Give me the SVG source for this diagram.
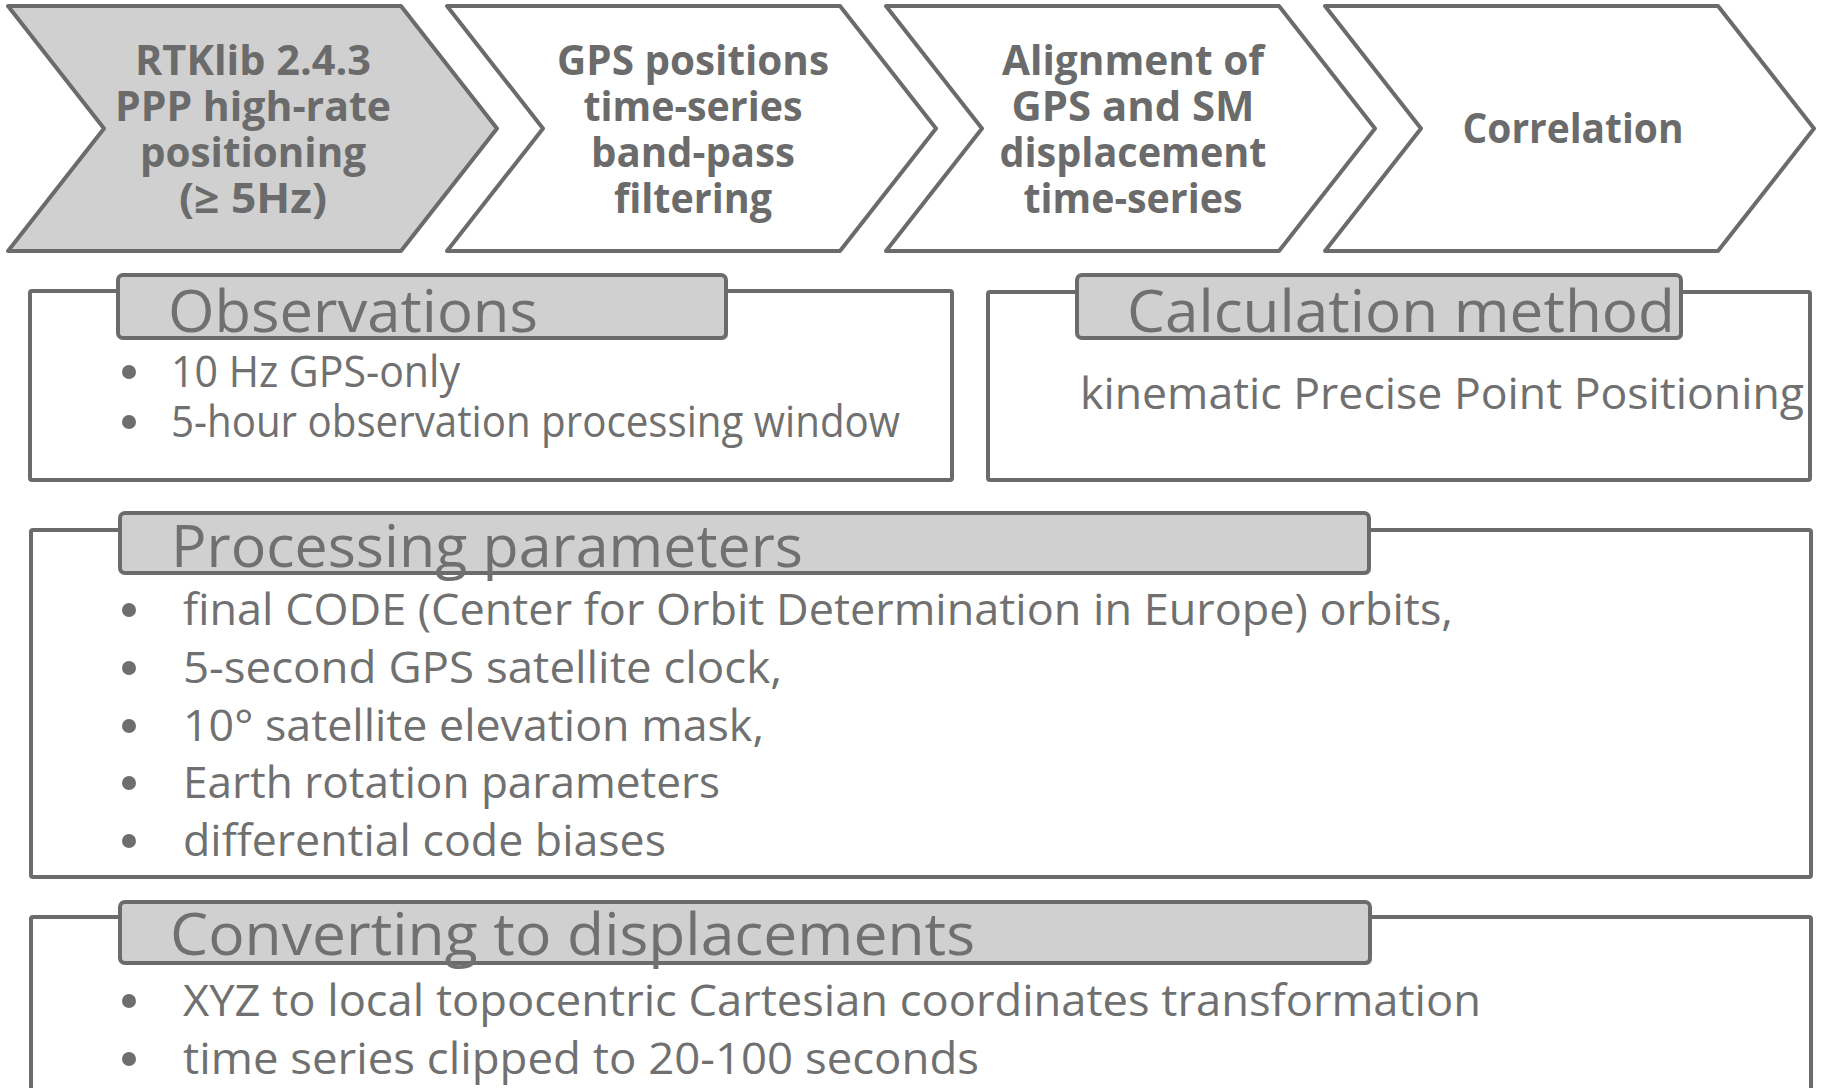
<svg xmlns="http://www.w3.org/2000/svg" width="1825" height="1088" viewBox="0 0 1825 1088">
<defs>
<style>
.chev{fill:#ffffff;stroke:#6b6b6b;stroke-width:4;stroke-linejoin:round}
.chev.first{fill:#d0d0d0}
.ct{font-family:"Open Sans","Noto Sans","Liberation Sans",sans-serif;font-weight:700;font-size:42px;fill:#6b6b6b;text-anchor:middle}
.box{fill:#ffffff;stroke:#6b6b6b;stroke-width:4}
.tab{fill:#d0d0d0;stroke:#6b6b6b;stroke-width:4}
.shadow{fill:#8a8a8a;opacity:0.6}
.ht{font-family:"Open Sans","Noto Sans","Liberation Sans",sans-serif;font-weight:400;font-size:58px;fill:#707070}
.bt{font-family:"Open Sans","Noto Sans","Liberation Sans",sans-serif;font-weight:400;font-size:43px;fill:#707070}
.dot{fill:#6e6e6e}
</style>
</defs>
<rect x="0" y="0" width="1825" height="1088" fill="#ffffff"/>

<g id="step1">
<polygon class="chev first" points="8,6 401,6 497,128.5 401,251 8,251 104,128.5"/>
<text class="ct" x="253" y="75" textLength="236" lengthAdjust="spacingAndGlyphs">RTKlib 2.4.3</text>
<text class="ct" x="253" y="121" textLength="276" lengthAdjust="spacingAndGlyphs">PPP high-rate</text>
<text class="ct" x="253" y="167" textLength="226" lengthAdjust="spacingAndGlyphs">positioning</text>
<text class="ct" x="253" y="213" textLength="148" lengthAdjust="spacingAndGlyphs">(≥ 5Hz)</text>
</g>
<g id="step2">
<polygon class="chev" points="447,6 840,6 936,128.5 840,251 447,251 543,128.5"/>
<text class="ct" x="693" y="75" textLength="272" lengthAdjust="spacingAndGlyphs">GPS positions</text>
<text class="ct" x="693" y="121" textLength="219" lengthAdjust="spacingAndGlyphs">time-series</text>
<text class="ct" x="693" y="167" textLength="204" lengthAdjust="spacingAndGlyphs">band-pass</text>
<text class="ct" x="693" y="213" textLength="158" lengthAdjust="spacingAndGlyphs">filtering</text>
</g>
<g id="step3">
<polygon class="chev" points="886,6 1279,6 1375,128.5 1279,251 886,251 982,128.5"/>
<text class="ct" x="1133" y="75" textLength="262" lengthAdjust="spacingAndGlyphs">Alignment of</text>
<text class="ct" x="1133" y="121" textLength="243" lengthAdjust="spacingAndGlyphs">GPS and SM</text>
<text class="ct" x="1133" y="167" textLength="267" lengthAdjust="spacingAndGlyphs">displacement</text>
<text class="ct" x="1133" y="213" textLength="219" lengthAdjust="spacingAndGlyphs">time-series</text>
</g>
<g id="step4">
<polygon class="chev" points="1325,6 1718,6 1814,128.5 1718,251 1325,251 1421,128.5"/>
<text class="ct" x="1573" y="143" textLength="221" lengthAdjust="spacingAndGlyphs">Correlation</text>
</g>

<g id="connectors"></g>

<g id="observations">
<rect class="box" x="30" y="291" width="922" height="189" rx="2"/>
<rect class="shadow" x="120" y="277" width="608" height="63" rx="5"/>
<rect class="tab" x="118" y="275" width="608" height="63" rx="5"/>
<text class="ht" x="168" y="332" textLength="370" lengthAdjust="spacingAndGlyphs">Observations</text>
<circle class="dot" cx="129" cy="372" r="7"/>
<text class="bt" x="171" y="387" textLength="289" lengthAdjust="spacingAndGlyphs">10 Hz GPS-only</text>
<circle class="dot" cx="129" cy="422" r="7"/>
<text class="bt" x="171" y="437" textLength="729" lengthAdjust="spacingAndGlyphs">5-hour observation processing window</text>
</g>

<g id="calculation">
<rect class="box" x="988" y="292" width="822" height="188" rx="2"/>
<rect class="shadow" x="1079" y="277" width="604" height="63" rx="5"/>
<rect class="tab" x="1077" y="275" width="604" height="63" rx="5"/>
<text class="ht" x="1127" y="332" textLength="548" lengthAdjust="spacingAndGlyphs">Calculation method</text>
<text class="bt" x="1080" y="409" textLength="724" lengthAdjust="spacingAndGlyphs">kinematic Precise Point Positioning</text>
</g>

<g id="processing">
<rect class="box" x="31" y="530" width="1780" height="347" rx="2"/>
<rect class="shadow" x="122" y="515" width="1249" height="60" rx="5"/>
<rect class="tab" x="120" y="513" width="1249" height="60" rx="5"/>
<text class="ht" x="171" y="567" textLength="632" lengthAdjust="spacingAndGlyphs">Processing parameters</text>
<circle class="dot" cx="129" cy="610" r="7"/>
<text class="bt" x="183" y="625" textLength="1270" lengthAdjust="spacingAndGlyphs">final CODE (Center for Orbit Determination in Europe) orbits,</text>
<circle class="dot" cx="129" cy="668" r="7"/>
<text class="bt" x="183" y="683" textLength="599" lengthAdjust="spacingAndGlyphs">5-second GPS satellite clock,</text>
<circle class="dot" cx="129" cy="726" r="7"/>
<text class="bt" x="183" y="741" textLength="581" lengthAdjust="spacingAndGlyphs">10° satellite elevation mask,</text>
<circle class="dot" cx="129" cy="783" r="7"/>
<text class="bt" x="183" y="798" textLength="537" lengthAdjust="spacingAndGlyphs">Earth rotation parameters</text>
<circle class="dot" cx="129" cy="841" r="7"/>
<text class="bt" x="183" y="856" textLength="483" lengthAdjust="spacingAndGlyphs">differential code biases</text>
</g>

<g id="converting">
<rect class="box" x="31" y="917" width="1780" height="200" rx="2"/>
<rect class="shadow" x="122" y="904" width="1250" height="61" rx="5"/>
<rect class="tab" x="120" y="902" width="1250" height="61" rx="5"/>
<text class="ht" x="170" y="955" textLength="805" lengthAdjust="spacingAndGlyphs">Converting to displacements</text>
<circle class="dot" cx="129" cy="1001" r="7"/>
<text class="bt" x="183" y="1016" textLength="1298" lengthAdjust="spacingAndGlyphs">XYZ to local topocentric Cartesian coordinates transformation</text>
<circle class="dot" cx="129" cy="1059" r="7"/>
<text class="bt" x="183" y="1074" textLength="796" lengthAdjust="spacingAndGlyphs">time series clipped to 20-100 seconds</text>
</g>
</svg>
